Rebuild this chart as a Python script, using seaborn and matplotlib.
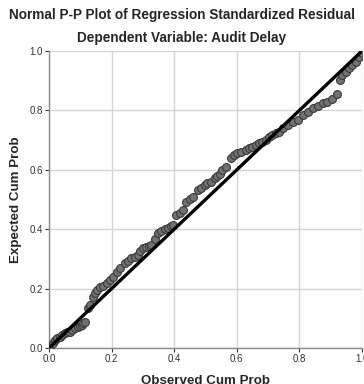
import matplotlib

matplotlib.use("Agg")
import matplotlib.pyplot as plt
import seaborn as sns
import pandas as pd

# Observed vs expected cumulative probabilities
observed = [
    0.003, 0.013, 0.019, 0.027, 0.035, 0.043, 0.051, 0.059, 0.067, 0.075,
    0.083, 0.092, 0.098, 0.104, 0.110, 0.115,
    0.124, 0.131, 0.140, 0.146, 0.152, 0.162, 0.172, 0.184, 0.194, 0.204,
    0.216, 0.226, 0.242, 0.252, 0.263, 0.274, 0.283, 0.291, 0.299, 0.311,
    0.320, 0.327, 0.338, 0.348, 0.359, 0.369, 0.380, 0.391, 0.395,
    0.407, 0.417, 0.427, 0.439, 0.449, 0.459, 0.475, 0.486, 0.497, 0.506,
    0.518, 0.529, 0.538, 0.545, 0.554, 0.566, 0.582, 0.592, 0.602, 0.614,
    0.630, 0.640, 0.650, 0.661, 0.672, 0.682, 0.693, 0.704, 0.713, 0.725,
    0.736, 0.746, 0.762, 0.778, 0.794, 0.810, 0.826, 0.842, 0.858, 0.874,
    0.889, 0.905, 0.921, 0.929, 0.937, 0.948, 0.959, 0.969, 0.980, 0.990,
    0.999,
]
expected = [
    0.004, 0.017, 0.027, 0.032, 0.038, 0.044, 0.050, 0.053, 0.055, 0.061,
    0.067, 0.072, 0.075, 0.077, 0.083, 0.089,
    0.135, 0.145, 0.173, 0.186, 0.195, 0.205, 0.209, 0.219, 0.229, 0.240,
    0.257, 0.269, 0.286, 0.293, 0.303, 0.307, 0.313, 0.325, 0.337, 0.341,
    0.344, 0.347, 0.366, 0.386, 0.394, 0.401, 0.403, 0.411, 0.414,
    0.448, 0.455, 0.465, 0.493, 0.502, 0.509, 0.532, 0.539, 0.549, 0.556,
    0.560, 0.572, 0.579, 0.586, 0.599, 0.610, 0.639, 0.650, 0.658, 0.661,
    0.667, 0.672, 0.678, 0.684, 0.689, 0.695, 0.700, 0.709, 0.717, 0.723,
    0.728, 0.740, 0.751, 0.762, 0.768, 0.785, 0.796, 0.807, 0.815, 0.824,
    0.829, 0.837, 0.854, 0.902, 0.919, 0.930, 0.942, 0.953, 0.964, 0.981,
    0.992,
]
diagonal = [0.0, 1.0]
ticks = [0.0, 0.2, 0.4, 0.6, 0.8, 1.0]
tick_labels = ["0.0", "0.2", "0.4", "0.6", "0.8", "1.0"]

df = pd.DataFrame({"observed": observed, "expected": expected})

sns.set_style("white")
plt.rcParams["font.family"] = ["Liberation Sans", "DejaVu Sans"]

fig = plt.figure(figsize=(3.64, 3.84), dpi=100)
ax = fig.add_axes([0.1346, 0.0938, 0.860, 0.7734])

ax.grid(True, color="#d4d4d4", linewidth=1.0)
ax.set_axisbelow(True)

sns.scatterplot(
    data=df,
    x="observed",
    y="expected",
    ax=ax,
    s=32,
    color="#727272",
    edgecolor="#3a3a3a",
    linewidth=0.8,
    zorder=3,
)
sns.lineplot(x=diagonal, y=diagonal, ax=ax, color="black", linewidth=2.4, zorder=4)

ax.set_xlim(0, 1)
ax.set_ylim(0, 1)
ax.set_xticks(ticks)
ax.set_xticklabels(tick_labels)
ax.set_yticks(ticks)
ax.set_yticklabels(tick_labels)
ax.tick_params(
    axis="both", labelsize=7, colors="#333333", length=3, width=0.8, pad=1.5,
    direction="out", left=True, bottom=True,
)

for side in ["top", "right"]:
    ax.spines[side].set_visible(False)
for side in ["left", "bottom"]:
    ax.spines[side].set_color("#8a8a8a")
    ax.spines[side].set_linewidth(1.0)

ax.set_xlabel("Observed Cum Prob", fontsize=9.6, fontweight="bold", labelpad=8)
ax.set_ylabel("Expected Cum Prob", fontsize=9.6, fontweight="bold", labelpad=5)

fig.text(0.5, 0.960, "Normal P-P Plot of Regression Standardized Residual",
         ha="center", va="center", fontsize=9.8, fontweight="bold")
fig.text(0.5, 0.900, "Dependent Variable: Audit Delay",
         ha="center", va="center", fontsize=9.8, fontweight="bold")

fig.savefig("out.png", dpi=100)
